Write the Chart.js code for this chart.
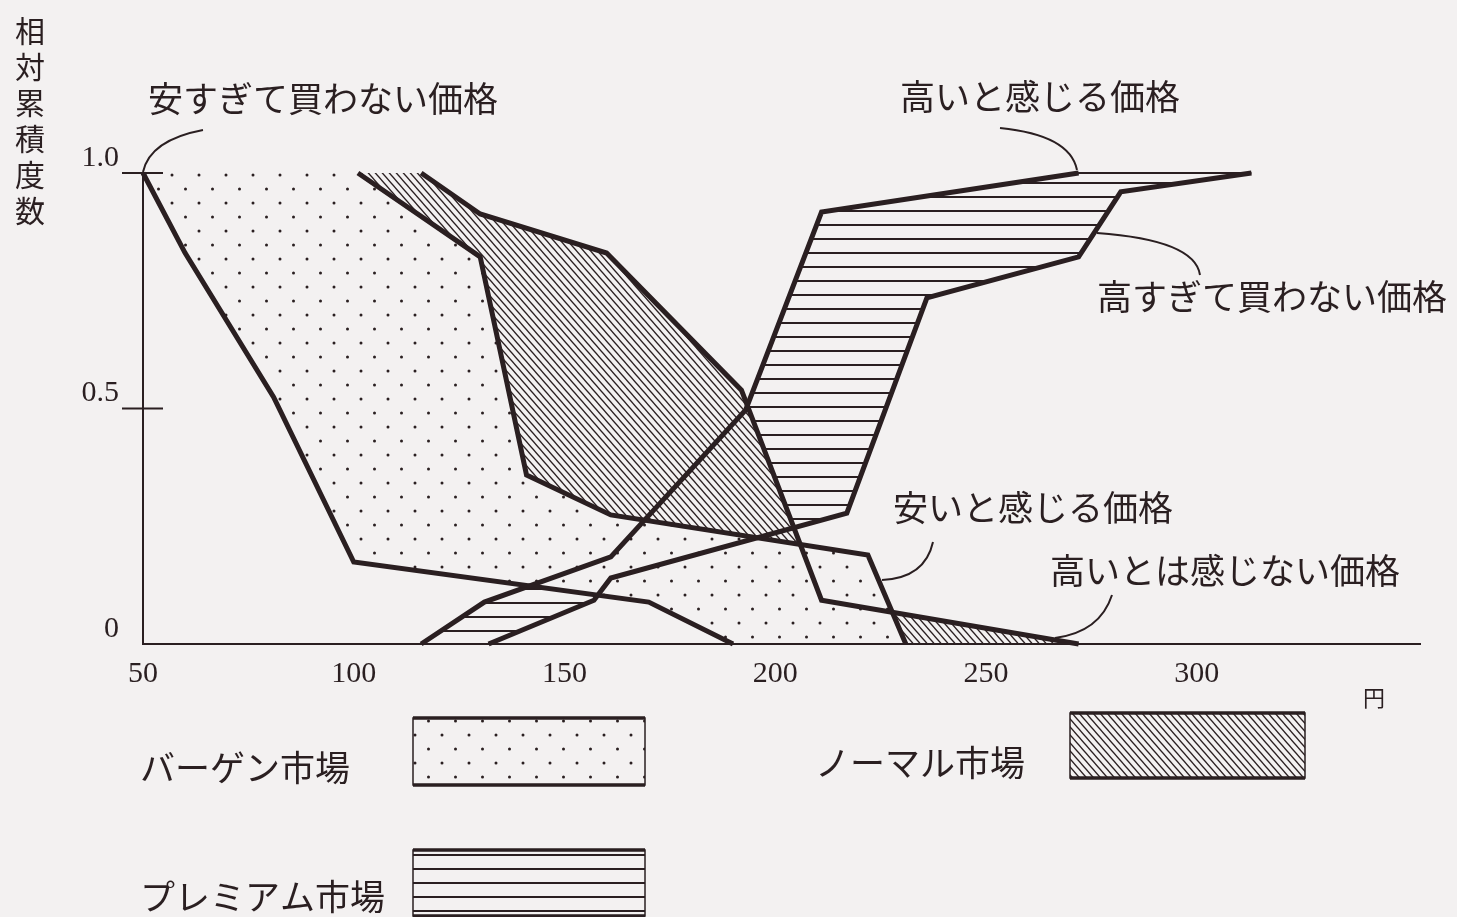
<!DOCTYPE html>
<html lang="ja">
<head>
<meta charset="utf-8">
<title>価格感度測定</title>
<script src="https://cdn.jsdelivr.net/npm/chart.js@4.4.1/dist/chart.umd.min.js"></script>
<style>
  html, body { margin: 0; padding: 0; background: #f3f1f1; }
  canvas { display: block; }
</style>
</head>
<body>
<canvas id="psm" width="1457" height="917"></canvas>
<script>
  // 価格(円) と 相対累積度数
  const priceTooCheap = [50, 60, 81, 100, 170, 190];
  const shareTooCheap = [1.0, 0.83, 0.524, 0.174, 0.089, 0];

  const priceCheap = [101, 130, 141, 161, 222, 231];
  const shareCheap = [1.0, 0.822, 0.359, 0.274, 0.189, 0];

  const priceNotExpensive = [116, 130, 160, 192, 211, 272];
  const shareNotExpensive = [1.0, 0.913, 0.83, 0.539, 0.093, 0];

  const priceExpensive = [116, 131, 161, 193, 211, 272];
  const shareExpensive = [0, 0.089, 0.185, 0.497, 0.917, 1.0];

  const priceTooExpensive = [132, 157, 161, 217, 236, 272, 282, 313];
  const shareTooExpensive = [0, 0.093, 0.14, 0.278, 0.735, 0.822, 0.96, 1.0];

  const xTicks = [50, 100, 150, 200, 250, 300];
  const yTicks = [0, 0.5, 1.0];

  const seriesNames = ['安すぎて買わない価格', '安いと感じる価格', '高いとは感じない価格', '高いと感じる価格', '高すぎて買わない価格'];
  const marketNames = ['バーゲン市場', 'ノーマル市場', 'プレミアム市場'];
  const yTitle = '相対累積度数';
  const unitLabel = '円';

  const PAPER = '#f3f1f1';
  const INK = '#2a1f21';
  const JP = '"Noto Sans CJK JP", "Noto Sans", sans-serif';

  function pts(xs, ys) {
    return xs.map((x, i) => ({ x: x, y: ys[i] }));
  }
  const last = a => a[a.length - 1];

  function makePattern(w, h, draw) {
    const c = document.createElement('canvas');
    c.width = w;
    c.height = h;
    const g = c.getContext('2d');
    g.fillStyle = PAPER;
    g.fillRect(0, 0, w, h);
    draw(g);
    return g.createPattern(c, 'repeat');
  }

  const dots = makePattern(27, 28, g => {
    g.fillStyle = INK;
    [[10, 7], [23.5, 21]].forEach(([x, y]) => {
      g.beginPath();
      g.arc(x, y, 1.5, 0, Math.PI * 2);
      g.fill();
    });
  });

  const hatch = makePattern(7, 8, g => {
    g.strokeStyle = INK;
    g.lineWidth = 1.4;
    [-7, 0, 7].forEach(dx => {
      g.beginPath();
      g.moveTo(dx - 7, -8);
      g.lineTo(dx + 14, 16);
      g.stroke();
    });
  });

  const stripes = makePattern(8, 14, g => {
    g.fillStyle = INK;
    g.fillRect(0, 0, 8, 2);
  });

  const curve = {
    borderColor: INK,
    borderWidth: 5,
    pointRadius: 0,
    fill: false,
    clip: 8,
    borderJoinStyle: 'miter'
  };
  const edge = {
    borderColor: 'transparent',
    borderWidth: 0,
    pointRadius: 0,
    clip: 8
  };

  // 注記の位置
  const labelSpots = [
    [seriesNames[0], 148, 99],
    [seriesNames[3], 900, 97],
    [seriesNames[4], 1097, 297],
    [seriesNames[1], 893, 508],
    [seriesNames[2], 1050, 571]
  ];
  const leaders = [
    [203, 130, 150, 140, 143, 172],
    [1000, 128, 1070, 135, 1077, 170],
    [1097, 233, 1195, 240, 1200, 275],
    [933, 542, 925, 578, 882, 580],
    [1112, 595, 1100, 632, 1055, 638]
  ];
  const legendSpots = [
    { text: marketNames[0], tx: 140, ty: 768, box: [413, 718, 232, 67], ds: 5 },
    { text: marketNames[1], tx: 815, ty: 763, box: [1070, 713, 235, 65], ds: 7 },
    { text: marketNames[2], tx: 140, ty: 897, box: [413, 850, 232, 66], ds: 9 }
  ];

  const annotate = {
    id: 'annotate',
    beforeDraw(chart) {
      const g = chart.ctx;
      g.save();
      g.fillStyle = PAPER;
      g.fillRect(0, 0, chart.width, chart.height);
      g.restore();
    },
    afterDraw(chart) {
      const g = chart.ctx;
      const ys = chart.scales.y;
      g.save();
      g.strokeStyle = INK;
      g.fillStyle = INK;

      // 目盛り (軸をまたぐ)
      g.lineWidth = 2;
      yTicks.filter(v => v > 0).forEach(v => {
        const py = ys.getPixelForValue(v);
        g.beginPath();
        g.moveTo(122, py);
        g.lineTo(163, py);
        g.stroke();
      });

      // 縦書きの軸タイトル
      g.font = '30px ' + JP;
      g.textAlign = 'center';
      g.textBaseline = 'middle';
      [...yTitle].forEach((ch, i) => g.fillText(ch, 30, 31 + i * 36));

      g.font = '22px ' + JP;
      g.fillText(unitLabel, 1374, 698);

      // 曲線の名前と引き出し線
      g.font = '35px ' + JP;
      g.textAlign = 'left';
      labelSpots.forEach(([t, x, y]) => g.fillText(t, x, y));
      g.lineWidth = 2;
      leaders.forEach(([x0, y0, cx, cy, x1, y1]) => {
        g.beginPath();
        g.moveTo(x0, y0);
        g.quadraticCurveTo(cx, cy, x1, y1);
        g.stroke();
      });

      // 凡例
      legendSpots.forEach(l => {
        const [bx, by, bw, bh] = l.box;
        g.fillStyle = chart.data.datasets[l.ds].fill.above;
        g.fillRect(bx, by, bw, bh);
        g.lineWidth = 1.5;
        g.strokeRect(bx, by, bw, bh);
        g.lineWidth = 3.5;
        g.beginPath();
        g.moveTo(bx, by);
        g.lineTo(bx + bw, by);
        g.moveTo(bx, by + bh);
        g.lineTo(bx + bw, by + bh);
        g.stroke();
        g.fillStyle = INK;
        g.fillText(l.text, l.tx, l.ty);
      });
      g.restore();
    }
  };

  const config = {
    type: 'line',
    data: {
      datasets: [
        { label: seriesNames[0], data: pts(priceTooCheap, shareTooCheap), ...curve },
        { label: seriesNames[1], data: pts(priceCheap, shareCheap), ...curve },
        { label: seriesNames[2], data: pts(priceNotExpensive, shareNotExpensive), ...curve },
        { label: seriesNames[3], data: pts(priceExpensive, shareExpensive), ...curve },
        { label: seriesNames[4], data: pts(priceTooExpensive, shareTooExpensive), ...curve },
        // バーゲン市場: 安すぎて〜 と 安いと〜 の間
        {
          label: marketNames[0],
          data: [{ x: priceTooCheap[0], y: 1 }].concat(pts(priceCheap, shareCheap)),
          ...edge,
          backgroundColor: dots,
          fill: { target: 6, above: dots, below: 'transparent' }
        },
        {
          label: 'bargain-low',
          data: pts(priceTooCheap, shareTooCheap).concat([{ x: last(priceCheap), y: 0 }]),
          ...edge,
          fill: false
        },
        // ノーマル市場: 安いと〜 と 高いとは〜 の間
        {
          label: marketNames[1],
          data: [{ x: priceCheap[0], y: 1 }].concat(pts(priceNotExpensive, shareNotExpensive)),
          ...edge,
          backgroundColor: hatch,
          fill: { target: 8, above: hatch, below: 'transparent' }
        },
        {
          label: 'normal-low',
          data: pts(priceCheap, shareCheap).concat([{ x: last(priceNotExpensive), y: 0 }]),
          ...edge,
          fill: false
        },
        // プレミアム市場: 高いと〜 と 高すぎて〜 の間
        {
          label: marketNames[2],
          data: pts(priceExpensive, shareExpensive).concat([{ x: last(priceTooExpensive), y: 1 }]),
          ...edge,
          borderColor: INK,
          borderWidth: 2,
          backgroundColor: stripes,
          fill: { target: 10, above: stripes, below: 'transparent' }
        },
        {
          label: 'premium-low',
          data: [{ x: priceExpensive[0], y: 0 }].concat(pts(priceTooExpensive, shareTooExpensive)),
          ...edge,
          fill: false
        }
      ]
    },
    options: {
      responsive: false,
      animation: false,
      devicePixelRatio: 1,
      layout: { padding: { left: 43, top: 173, right: 37, bottom: 213 } },
      elements: { line: { tension: 0 }, point: { radius: 0 } },
      plugins: {
        legend: { display: false },
        tooltip: { enabled: false },
        filler: { propagate: false }
      },
      scales: {
        x: {
          type: 'linear',
          min: 50,
          max: 353,
          afterFit: s => { s.height = 60; },
          afterBuildTicks: s => { s.ticks = xTicks.map(v => ({ value: v })); },
          grid: { display: false, drawTicks: false },
          border: { display: true, color: INK, width: 2, z: 1 },
          ticks: {
            color: INK,
            font: { family: '"Liberation Serif", serif', size: 30 },
            padding: 12,
            maxRotation: 0,
            autoSkip: false
          }
        },
        y: {
          type: 'linear',
          min: 0,
          max: 1,
          afterFit: s => { s.width = 100; },
          afterBuildTicks: s => { s.ticks = yTicks.map(v => ({ value: v })); },
          grid: { display: false, drawTicks: false },
          border: { display: true, color: INK, width: 2, z: 1 },
          ticks: {
            color: INK,
            font: { family: '"Liberation Serif", serif', size: 30 },
            padding: 24,
            labelOffset: -15,
            callback: v => (v === 0 ? '0' : v.toFixed(1))
          }
        }
      }
    },
    plugins: [annotate]
  };

  const psmChart = new Chart(document.getElementById('psm'), config);
</script>
</body>
</html>
